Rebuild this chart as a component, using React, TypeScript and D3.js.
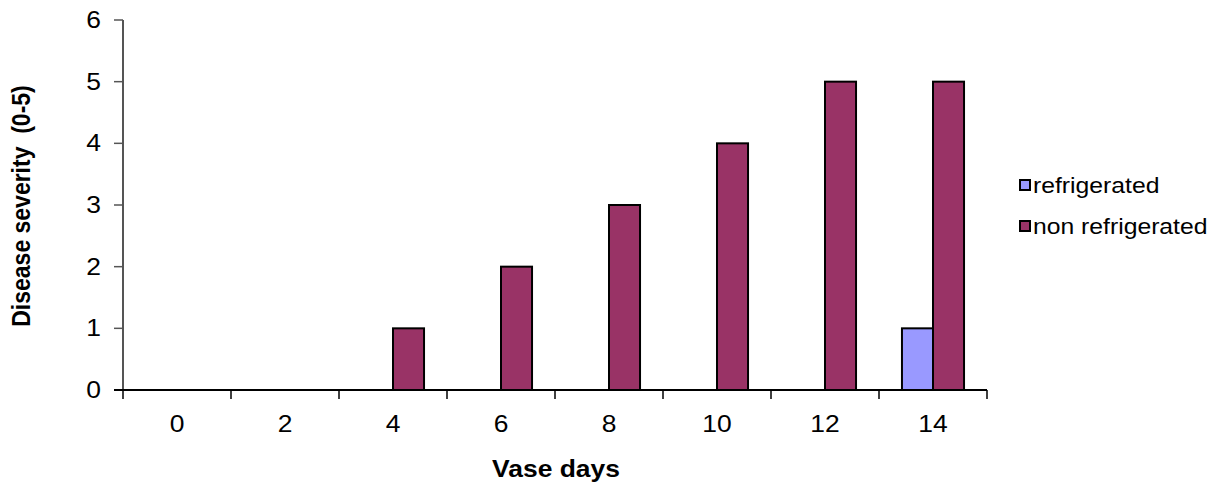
import React from "react";
import * as d3 from "d3";

const days = ["0", "2", "4", "6", "8", "10", "12", "14"];
const refrigerated = [0, 0, 0, 0, 0, 0, 0, 1];
const nonRefrigerated = [0, 0, 1, 2, 3, 4, 5, 5];
const seriesNames = ["refrigerated", "non refrigerated"];
const seriesColors = ["#9999FF", "#993366"];
const yTicks = [0, 1, 2, 3, 4, 5, 6];

const W = 1219;
const H = 484;
const left = 123;
const right = 987;
const top = 20;
const bottom = 390;
const FS = 23;
const SX = 1.15;
const FONT = "Arial, 'Liberation Sans', sans-serif";

export default function App() {
  const x = d3.scaleBand<string>().domain(days).range([left, right]).padding(0);
  const y = d3.scaleLinear().domain([0, 6]).range([bottom, top]);
  const sub = d3
    .scaleBand<string>()
    .domain(seriesNames)
    .range([0, x.bandwidth()])
    .paddingInner(0)
    .paddingOuter(0.74);
  const series = [refrigerated, nonRefrigerated];

  return (
    <svg
      width={W}
      height={H}
      style={{ position: "fixed", left: 0, top: 0, background: "#fff" }}
      fontFamily={FONT}
    >
      <rect width={W} height={H} fill="#fff" />
      {/* bars */}
      {series.map((vals, si) =>
        vals.map((v, i) =>
          v > 0 ? (
            <rect
              key={`${si}-${i}`}
              x={(x(days[i]) as number) + (sub(seriesNames[si]) as number)}
              y={y(v)}
              width={sub.bandwidth()}
              height={y(0) - y(v)}
              fill={seriesColors[si]}
              stroke="#000"
              strokeWidth={2}
            />
          ) : null
        )
      )}
      {/* y axis */}
      <line x1={left} x2={left} y1={top} y2={bottom} stroke="#555" strokeWidth={2} />
      {yTicks.map((t) => (
        <g key={t}>
          <line x1={left - 9} x2={left} y1={y(t)} y2={y(t)} stroke="#555" strokeWidth={1.5} />
          <text
            transform={`translate(${left - 22},${y(t) + 8}) scale(${SX},1)`}
            textAnchor="end"
            fontSize={FS}
            fill="#000"
          >
            {t}
          </text>
        </g>
      ))}
      {/* x axis */}
      <line x1={left - 9} x2={right} y1={bottom} y2={bottom} stroke="#000" strokeWidth={2} />
      {[...days.map((d) => x(d) as number), right].map((px, i) => (
        <line key={i} x1={px} x2={px} y1={bottom} y2={bottom + 9} stroke="#000" strokeWidth={1.5} />
      ))}
      {days.map((d) => (
        <text
          key={d}
          transform={`translate(${(x(d) as number) + x.bandwidth() / 2},${bottom + 42}) scale(${SX},1)`}
          textAnchor="middle"
          fontSize={FS}
          fill="#000"
        >
          {d}
        </text>
      ))}
      {/* axis titles */}
      <text
        transform={`translate(${(left + right) / 2 + 1},${477}) scale(${SX},1)`}
        textAnchor="middle"
        fontSize={FS}
        fontWeight="bold"
        fill="#000"
      >
        Vase days
      </text>
      <text
        transform={`translate(30,${206}) scale(${SX},1) rotate(-90)`}
        textAnchor="middle"
        fontSize={FS}
        fontWeight="bold"
        fill="#000"
        style={{ whiteSpace: "pre" }}
      >
        {"Disease severity  (0-5)"}
      </text>
      {/* legend */}
      {seriesNames.map((n, i) => (
        <g key={n}>
          <rect
            x={1020}
            y={180 + i * 41}
            width={10}
            height={10}
            fill={seriesColors[i]}
            stroke="#000"
            strokeWidth={2}
          />
          <text
            transform={`translate(1033,${193 + i * 41}) scale(${SX},1)`}
            fontSize={FS - 1.5}
            fill="#000"
          >
            {n}
          </text>
        </g>
      ))}
    </svg>
  );
}
